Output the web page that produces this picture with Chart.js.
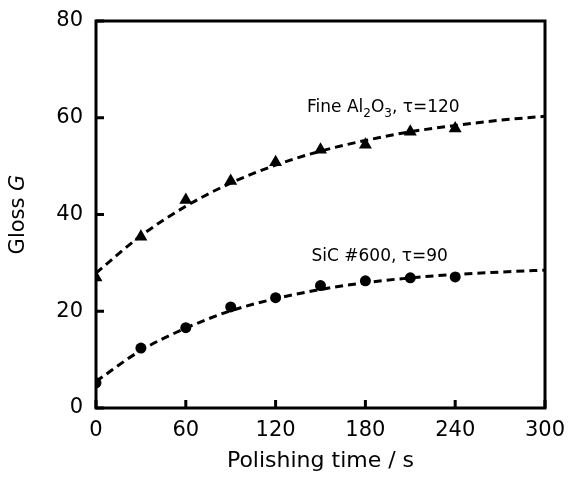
<!DOCTYPE html>
<html>
<head>
<meta charset="utf-8">
<script src="https://cdn.jsdelivr.net/npm/chart.js@4.4.1/dist/chart.umd.min.js"></script>
<style>
html,body{margin:0;padding:0;background:#fff;}
#wrap{width:569px;height:479px;}
</style>
</head>
<body>
<div id="wrap"><canvas id="c" width="569" height="479"></canvas></div>
<script>
// Measured points
const timesPts = [0, 30, 60, 90, 120, 150, 180, 210, 240];
const al2o3Pts = [27.0, 35.4, 43.0, 46.9, 50.8, 53.4, 54.4, 57.1, 57.8];
const sicPts   = [5.2, 12.4, 16.6, 20.9, 22.8, 25.3, 26.3, 26.9, 27.1];
// Dashed fit curves
const timesCurve = [0, 30, 60, 90, 120, 150, 180, 210, 240, 270, 300];
const al2o3Curve = [27.9, 35.6, 41.7, 46.5, 50.2, 53.1, 55.3, 57.1, 58.4, 59.5, 60.3];
const sicCurve   = [5.5, 11.9, 16.5, 20.1, 22.6, 24.5, 25.9, 26.9, 27.6, 28.1, 28.5];
// Axis ticks
const xTicks = [0, 60, 120, 180, 240, 300];
const yTicks = [0, 20, 40, 60, 80];
// Labels
const xTitle = "Polishing time / s";
const yTitleA = "Gloss ";
const yTitleB = "G";
const labelAl = {x: 141, y: 62.2, parts: [["Fine Al",0],["2",1],["O",0],["3",1],[", \u03c4=120",0]]};
const labelSiC = {x: 144, y: 31.3, parts: [["SiC #600, \u03c4=90",0]]};

const FONT = "'DejaVu Sans', Verdana, sans-serif";
const pts = (xs, ys) => xs.map((x, i) => ({x: x, y: ys[i]}));

const deco = {
  id: 'deco',
  afterDraw(chart) {
    const ctx = chart.ctx, a = chart.chartArea;
    const xs = chart.scales.x, ys = chart.scales.y;
    ctx.save();
    ctx.strokeStyle = '#000';
    ctx.lineWidth = 3;
    ctx.strokeRect(a.left, a.top, a.right - a.left, a.bottom - a.top);
    ctx.beginPath();
    xTicks.forEach(v => { const px = xs.getPixelForValue(v); ctx.moveTo(px, a.bottom); ctx.lineTo(px, a.bottom - 8); });
    yTicks.forEach(v => { const py = ys.getPixelForValue(v); ctx.moveTo(a.left, py); ctx.lineTo(a.left + 8, py); });
    ctx.stroke();
    // annotations
    ctx.fillStyle = '#000';
    ctx.textBaseline = 'middle';
    ctx.textAlign = 'left';
    [labelAl, labelSiC].forEach(l => {
      let px = xs.getPixelForValue(l.x), py = ys.getPixelForValue(l.y);
      l.parts.forEach(p => {
        if (p[1]) { ctx.font = '12px ' + FONT; ctx.fillText(p[0], px, py + 7); }
        else { ctx.font = '17px ' + FONT; ctx.fillText(p[0], px, py); }
        px += ctx.measureText(p[0]).width;
      });
    });
    // x title
    ctx.font = '22px ' + FONT;
    ctx.textAlign = 'center';
    ctx.fillText(xTitle, (a.left + a.right) / 2, 461);
    // y title
    ctx.translate(19, (a.top + a.bottom) / 2);
    ctx.rotate(-Math.PI / 2);
    ctx.font = '21px ' + FONT;
    const w1 = ctx.measureText(yTitleA).width;
    ctx.font = 'italic 21px ' + FONT;
    const w2 = ctx.measureText(yTitleB).width;
    ctx.textAlign = 'left';
    ctx.font = '21px ' + FONT;
    ctx.fillText(yTitleA, -(w1 + w2) / 2, 0);
    ctx.font = 'italic 21px ' + FONT;
    ctx.fillText(yTitleB, -(w1 + w2) / 2 + w1, 0);
    ctx.restore();
  }
};

new Chart(document.getElementById('c'), {
  type: 'scatter',
  data: {
    datasets: [
      {data: pts(timesCurve, al2o3Curve), showLine: true, borderColor: '#000', borderWidth: 3, borderDash: [8, 5], pointRadius: 0, cubicInterpolationMode: 'monotone', fill: false},
      {data: pts(timesCurve, sicCurve), showLine: true, borderColor: '#000', borderWidth: 3, borderDash: [8, 5], pointRadius: 0, cubicInterpolationMode: 'monotone', fill: false},
      {data: pts(timesPts, al2o3Pts), pointStyle: 'triangle', pointRadius: 7.5, backgroundColor: '#000', borderColor: '#000', borderWidth: 0},
      {data: pts(timesPts, sicPts), pointStyle: 'circle', pointRadius: 5.5, backgroundColor: '#000', borderColor: '#000', borderWidth: 0}
    ]
  },
  options: {
    responsive: false,
    animation: false,
    events: [],
    layout: {padding: {top: 21, right: 24, left: 0, bottom: 0}},
    plugins: {legend: {display: false}, tooltip: {enabled: false}},
    scales: {
      x: {
        type: 'linear', min: 0, max: 300,
        afterBuildTicks: s => { s.ticks = xTicks.map(v => ({value: v})); },
        afterFit: s => { s.height = 71; s.paddingLeft = 0; s.paddingRight = 0; },
        grid: {display: false, drawTicks: false},
        border: {display: false},
        ticks: {color: '#000', padding: 10, font: {family: FONT, size: 21}, maxRotation: 0}
      },
      y: {
        type: 'linear', min: 0, max: 80,
        afterBuildTicks: s => { s.ticks = yTicks.map(v => ({value: v})); },
        afterFit: s => { s.width = 96; s.paddingTop = 0; s.paddingBottom = 0; },
        grid: {display: false, drawTicks: false},
        border: {display: false},
        ticks: {color: '#000', padding: 13, font: {family: FONT, size: 21}}
      }
    }
  },
  plugins: [deco]
});
</script>
</body>
</html>
